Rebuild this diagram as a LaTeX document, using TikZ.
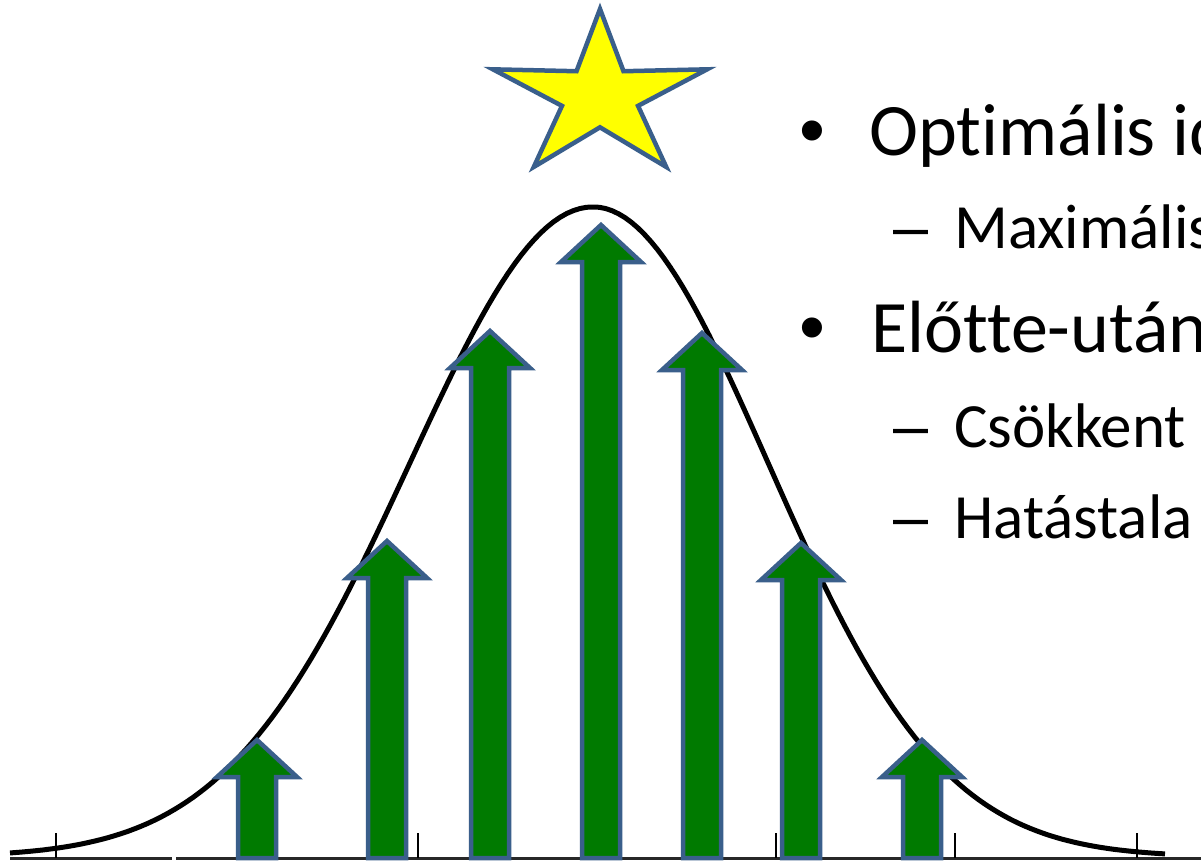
\documentclass[tikz,border=0pt]{standalone}
\usepackage{fontspec}
\setmainfont{Carlito}[Ligatures=CommonOff]
\newfontfamily\markfont{Liberation Sans}
\usetikzlibrary{positioning}
\definecolor{arrowgreen}{RGB}{0,122,0}
\definecolor{edgeblue}{RGB}{58,95,139}
\definecolor{staryellow}{RGB}{255,255,0}
\definecolor{axisgray}{RGB}{40,40,40}

\begin{document}
\begin{tikzpicture}[x=1pt,y=-1pt,
curve/.style={line width=5pt,black,line join=round},
axisline/.style={line width=3pt,axisgray},
tickline/.style={line width=2.5pt,black},
blockarrow/.style={fill=arrowgreen,draw=edgeblue,line width=4.5pt,line join=miter},
starshape/.style={fill=staryellow,draw=edgeblue,line width=4.5pt,line join=miter},
lvlone/.style={anchor=base west,inner sep=0pt,font=\fontsize{74}{80}\selectfont},
lvltwo/.style={anchor=base west,inner sep=0pt,font=\fontsize{63}{70}\selectfont}
]
\useasboundingbox (0,0) rectangle (1201,863);
\clip (0,0) rectangle (1201,863);
\fill[white] (0,0) rectangle (1201,863);

% axis and ticks
\draw[axisline] (10,858) -- (172,858);
\draw[axisline] (176,858) -- (1201,858);
\foreach \tx in {56,418,776,955,1137}
  \draw[tickline] (\tx,833) -- (\tx,858);

% bell curve, left half a bit wider
\draw[curve] plot[domain=10:593,samples=90] (\x,{857-650*exp(-0.5*((\x-593)/183)*((\x-593)/183))})
  -- plot[domain=593:1165,samples=90] (\x,{857-650*exp(-0.5*((\x-593)/175)*((\x-593)/175))});

% block arrows
\foreach \cx/\tip in {257/737,387/538,490/328,601/222,702/330,801/540,922/737}
  \draw[blockarrow] ({\cx-19},858) -- ({\cx-19},{\tip+40}) -- ({\cx-40},{\tip+40})
    -- (\cx,{\tip+3}) -- ({\cx+40},{\tip+40}) -- ({\cx+19},{\tip+40}) -- ({\cx+19},858) -- cycle;

% star
\draw[starshape] (600,9) \foreach \a/\rad in {126/31,162/87.3,198/31,234/87.3,270/31,306/87.3,342/31,18/87.3,54/31}
  { -- ({600+1.29*\rad*cos(\a)},{96.3-\rad*sin(\a)}) } -- cycle;

% bullet list
\node[lvlone,anchor=base] (dot1) at (812,155) {\markfont •};
\node[lvlone] (opt) at (869,155) {Optimális id};
\node[lvltwo] (dash1) at (893,248) {\markfont –};
\node[lvltwo] (maxi) at (954,248) {Maximális};
\node[lvlone,anchor=base] (dot2) at (812,352) {\markfont •};
\node[lvlone] (elot) at (871,352) {Előtte-után};
\node[lvltwo] (dash2) at (893,447) {\markfont –};
\node[lvltwo] (csok) at (954,447) {Csökkent};
\node[lvltwo] (dash3) at (893,538) {\markfont –};
\node[lvltwo] (hata) at (954,538) {Hatástala};
\end{tikzpicture}
\end{document}
